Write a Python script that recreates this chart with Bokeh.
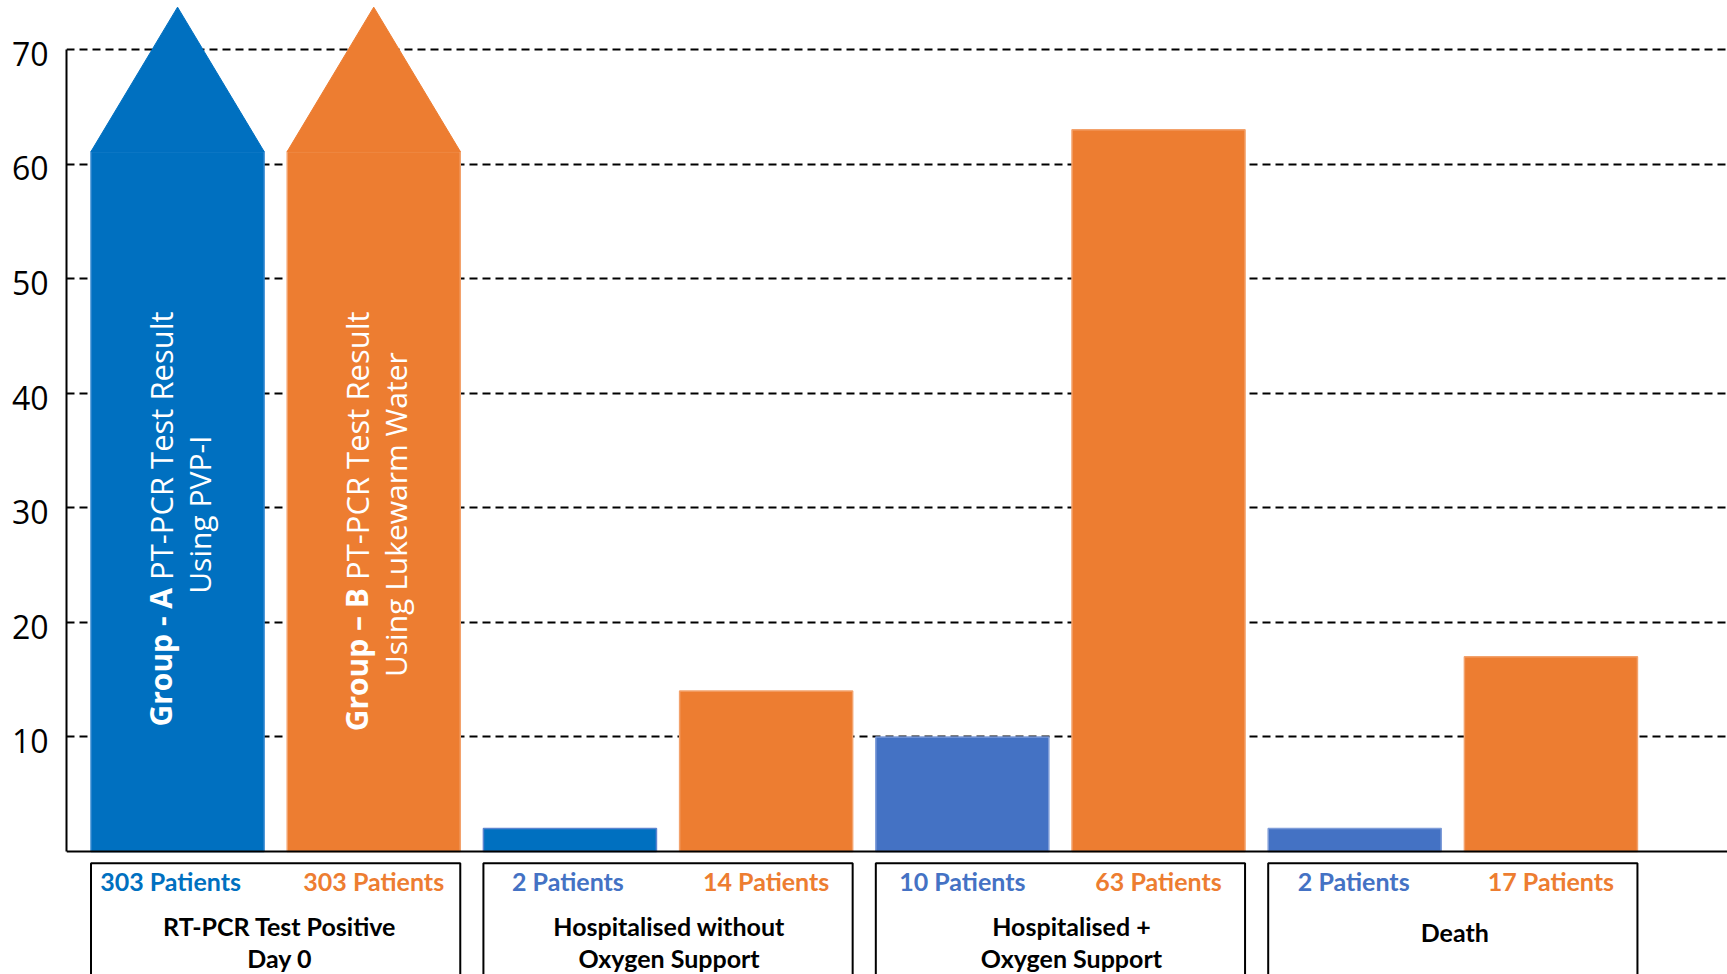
import math

from bokeh.plotting import figure
from bokeh.models import ColumnDataSource, FixedTicker, Range1d, Span, LinearAxis, Grid
from bokeh.core.properties import value
from bokeh.embed import file_html
from bokeh.resources import INLINE

# ---- data -------------------------------------------------------------
categories = [
    ["RT-PCR Test Positive", "Day 0"],
    ["Hospitalised without", "Oxygen Support"],
    ["Hospitalised +", "Oxygen Support"],
    ["Death"],
]
group_a_patients = [303, 2, 10, 2]
group_b_patients = [303, 14, 63, 17]
y_ticks = [10, 20, 30, 40, 50, 60, 70]

group_a_title = ["Group - A", "PT-PCR Test Result", "Using PVP-I"]
group_b_title = ["Group \u2013 B", "PT-PCR Test Result", "Using Lukewarm Water"]

# ---- style ------------------------------------------------------------
A_BAR_FILLS = ["#0070C0", "#0070C0", "#4472C4", "#4472C4"]
A_BAR_LINES = ["#2F86CF", "#5B84CF", "#7E9CD8", "#7E9CD8"]
A_LABEL_COLORS = ["#0070C0", "#4472C4", "#4472C4", "#4472C4"]
B_COLOR = "#ED7D31"
B_LINE = "#F3A26C"

AXIS_MAX = y_ticks[-1]
BREAK_AT = 61.1      # bars beyond the axis are cut here and capped by an arrow head
ARROW_TIP = 73.7
HALF_W = 0.441
Y0, Y1 = -10.74, 74.28
LABEL_SHIFT = 0.38   # tick labels sit a little below their grid line
CAT_NUDGE_PX = [4, 1, 11, 2]         # small horizontal offsets of the box captions
A_LABEL_NUDGE_PX = [-7, -2, 0, -1]   # offsets of the group A patient counts

# ---- bars -------------------------------------------------------------
bx, btop, bfill, bline = [], [], [], []
arrow_xs, arrow_ys, arrow_fill = [], [], []
for i in range(len(categories)):
    for j, (v, fill, line) in enumerate([
        (group_a_patients[i], A_BAR_FILLS[i], A_BAR_LINES[i]),
        (group_b_patients[i], B_COLOR, B_LINE),
    ]):
        x = 2 * i + j
        over = v > AXIS_MAX
        bx.append(x)
        btop.append(BREAK_AT if over else v)
        bfill.append(fill)
        bline.append(line)
        if over:
            arrow_xs.append([x - HALF_W, x, x + HALF_W])
            arrow_ys.append([BREAK_AT, ARROW_TIP, BREAK_AT])
            arrow_fill.append(fill)

bars = ColumnDataSource(dict(x=bx, top=btop, fill=bfill, line=bline))
arrows = ColumnDataSource(dict(xs=arrow_xs, ys=arrow_ys, fill=arrow_fill))

p = figure(
    width=1727, height=974,
    x_range=Range1d(-0.566, 7.90), y_range=Range1d(Y0, Y1),
    output_backend="svg", toolbar_location=None,
    x_axis_location=None, y_axis_location=None,
    min_border_left=66, min_border_right=0, min_border_top=0, min_border_bottom=0,
)
p.outline_line_color = None
p.background_fill_color = "white"
p.border_fill_color = "white"
for g in p.grid:
    g.visible = False

# y axis on a slightly shifted range so its labels sit just under each grid line
p.extra_y_ranges = {"labels": Range1d(Y0 + LABEL_SHIFT, Y1 + LABEL_SHIFT)}
yax = LinearAxis(
    y_range_name="labels",
    ticker=FixedTicker(ticks=y_ticks),
    bounds=(LABEL_SHIFT, AXIS_MAX + LABEL_SHIFT),
    axis_line_color="black", axis_line_width=2,
    major_tick_line_color=None, minor_tick_line_color=None,
    major_tick_out=0, major_tick_in=0,
    major_label_standoff=18,
    major_label_text_font="Open Sans",
    major_label_text_font_size="32px",
    major_label_text_color="black",
)
p.add_layout(yax, "left")

p.add_layout(Grid(dimension=1, ticker=FixedTicker(ticks=y_ticks),
                  grid_line_color="black", grid_line_width=2, grid_line_dash="8 5"))

p.vbar(x="x", top="top", bottom=0, width=2 * HALF_W, source=bars,
       fill_color="fill", line_color="line", line_width=1.5)
p.patches(xs="xs", ys="ys", source=arrows, fill_color="fill", line_color="fill", line_width=1)

# baseline
p.add_layout(Span(location=0, dimension="width", line_color="black", line_width=2))

# ---- rotated titles inside the capped bars ----------------------------
title_font = value("Open Sans")
for x, (bold, rest, second) in [(0, group_a_title), (1, group_b_title)]:
    p.text(x=[x], y=[23.0], text=[bold], angle=math.pi / 2, x_offset=-17,
           text_align="right", text_baseline="alphabetic",
           text_font=title_font, text_font_style="bold",
           text_font_size="30px", text_color="white")
    p.text(x=[x], y=[23.7], text=[rest], angle=math.pi / 2, x_offset=-17,
           text_align="left", text_baseline="alphabetic",
           text_font=title_font, text_font_size="31px", text_color="white")
    p.text(x=[x], y=[29.4], text=[second], angle=math.pi / 2, x_offset=22,
           text_align="center", text_baseline="alphabetic",
           text_font=title_font, text_font_size="30px", text_color="white")

# ---- category boxes under the axis --------------------------------------
box_left = [2 * i - HALF_W for i in range(len(categories))]
box_right = [2 * i + 1 + HALF_W for i in range(len(categories))]
p.quad(left=box_left, right=box_right, top=-1.02, bottom=-20,
       fill_color=None, line_color="black", line_width=2)

label_font = value("Lato")
pa_x, pa_text, pa_color, pa_dx = [], [], [], []
for i in range(len(categories)):
    pa_x += [2 * i, 2 * i + 1]
    pa_text += [f"{group_a_patients[i]} Patients", f"{group_b_patients[i]} Patients"]
    pa_color += [A_LABEL_COLORS[i], B_COLOR]
    pa_dx += [A_LABEL_NUDGE_PX[i], 0]
p.text(x=pa_x, y=-2.6, text=pa_text, text_color=pa_color, x_offset=pa_dx,
       text_align="center", text_baseline="middle",
       text_font=label_font, text_font_style="bold", text_font_size="25px")

cx, cy, ct, cdx = [], [], [], []
for i, lines in enumerate(categories):
    mid = 2 * i + 0.5
    ys = [-6.5, -9.3] if len(lines) == 2 else [-7.0]
    for line, yy in zip(lines, ys):
        cx.append(mid)
        cy.append(yy)
        ct.append(line)
        cdx.append(CAT_NUDGE_PX[i])
p.text(x=cx, y=cy, text=ct, text_color="black", x_offset=cdx,
       text_align="center", text_baseline="middle",
       text_font=label_font, text_font_style="bold", text_font_size="25px")

open("out.html", "w").write(file_html(p, INLINE))
